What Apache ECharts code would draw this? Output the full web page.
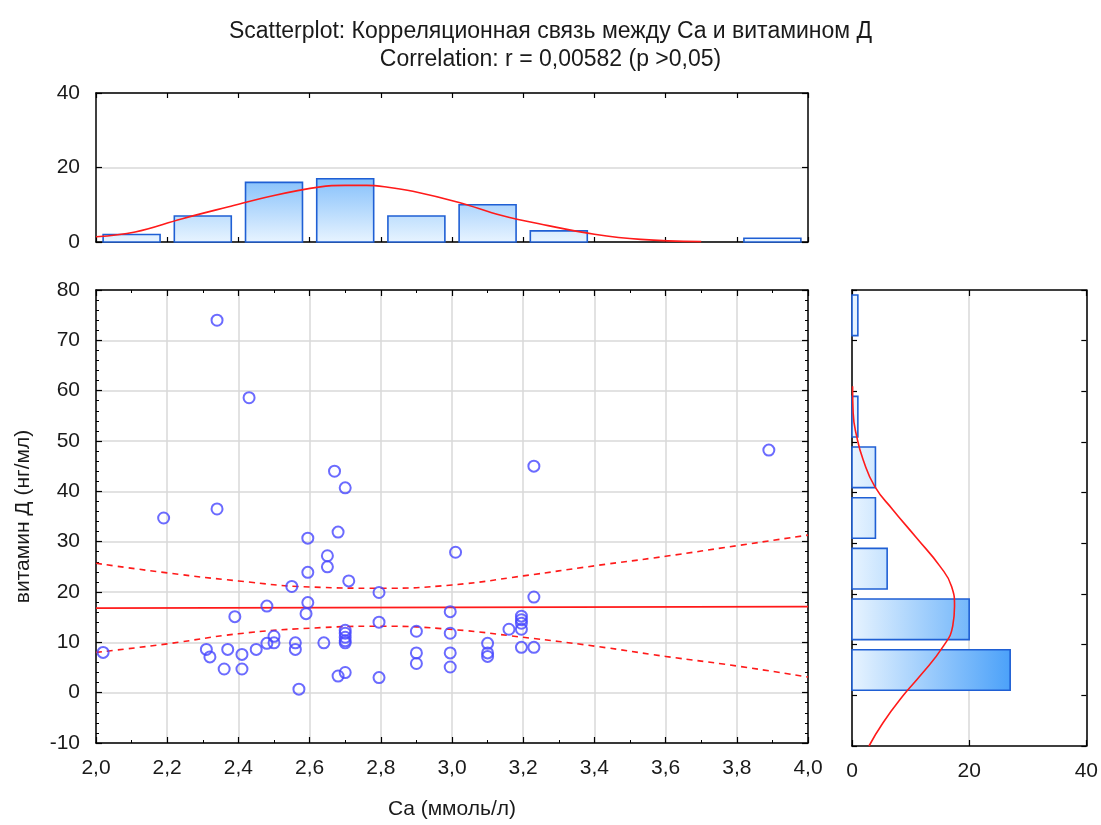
<!DOCTYPE html>
<html><head><meta charset="utf-8">
<script src="https://cdn.jsdelivr.net/npm/echarts@6/dist/echarts.min.js"></script>
<style>html,body{margin:0;padding:0;background:#fff}#c{width:1101px;height:825px}</style>
</head><body><div id="c"></div>
<script>
// ---- data ----
const caValues = [2.02,2.19,2.34,2.34,2.31,2.32,2.37,2.36,2.39,2.43,2.41,2.41,2.45,2.48,2.50,2.50,2.48,2.55,2.59,2.56,2.56,2.57,2.595,2.595,2.595,
  2.67,2.70,2.68,2.65,2.65,2.71,2.70,2.70,2.70,2.70,2.70,2.64,2.68,2.70,2.795,2.795,2.795,
  2.90,2.90,2.90,2.995,2.995,2.995,2.995,
  3.01,3.10,3.10,3.10,3.16,3.195,3.195,3.195,3.195,3.195,
  3.23,3.23,3.23,3.89];
const vitDValues = [8.0,34.7,74.0,36.5,8.6,7.1,8.6,4.7,15.1,58.6,7.6,4.7,8.6,17.2,11.2,9.9,9.8,21.1,15.7,9.9,8.6,0.7,30.7,23.9,17.9,
  44.0,40.7,31.9,27.2,25.0,22.2,12.4,11.8,11.0,10.3,9.9,9.9,3.3,4.0,19.9,14.0,3.0,
  12.2,7.9,5.8,16.1,11.8,7.9,5.1,
  27.9,9.8,7.9,7.2,12.6,15.2,14.5,13.8,12.6,9.0,
  45.0,19.0,9.0,48.2];
const caBinStarts = [2.0,2.2,2.4,2.6,2.8,3.0,3.2,3.4,3.6,3.8];
const caBinCounts = [2,7,16,17,7,10,3,0,0,1];
const vitBinStarts = [0,10,20,30,40,50,60,70];
const vitBinCounts = [27,20,6,4,4,1,0,1];
const regX = [2.0,4.0];
const regY = [16.8,17.1];
const bandX = [2.0,2.2,2.4,2.6,2.8,3.0,3.2,3.4,3.6,3.8,4.0];
const bandUpper = [25.7,23.8,22.2,21.0,20.75,21.4,23.2,25.2,27.1,29.2,31.3];
const bandLower = [8.0,9.7,11.7,12.8,13.2,12.55,11.0,9.25,7.2,5.3,3.1];
const caCurveX = [2.0,2.11,2.24,2.37,2.50,2.63,2.70,2.76,2.82,2.89,3.02,3.14,3.27,3.40,3.53,3.70];
const caCurveCount = [1.4,2.7,6.2,9.4,12.5,14.8,15.2,15.2,14.7,13.6,10.6,7.1,4.4,2.1,0.7,0.1];
const vitCurveV = [61,55.7,51.1,46.5,41.2,36.6,31.1,25.5,21.5,17.6,13.7,9.7,3.8,-0.1,-5.4,-10];
const vitCurveCount = [0.1,0.2,0.8,1.9,3.9,7.0,11.0,15.0,17.0,17.5,17.2,15.6,11.6,8.7,5.3,2.9];
const titleLines = ['Scatterplot: Корреляционная связь между Ca и витамином Д','Correlation: r = 0,00582 (p >0,05)'];
const xName = 'Ca (ммоль/л)';
const yName = 'витамин Д (нг/мл)';

// ---- chart ----
const FONT = "'Liberation Sans',Arial,sans-serif";
const TXT = '#1a1a1a';
const chart = echarts.init(document.getElementById('c'), null, {renderer:'canvas'});
const axisLine = {show:true, onZero:false, lineStyle:{color:'#000', width:1.5}};
const grid = {color:'#d9d9d9', width:1.5};
const lab = {color:TXT, fontFamily:FONT, fontSize:21};
const nameLab = {color:TXT, fontFamily:FONT, fontSize:21};
const comma = v => v.toFixed(1).replace('.', ',');

function mix(t){
  t = Math.max(0, Math.min(1, t));
  const a=[232,244,255], b=[58,152,248];
  const c=a.map((v,i)=>Math.round(v+(b[i]-v)*t));
  return 'rgb('+c.join(',')+')';
}
const barBorder = '#1f5fd4';

function tick(len){return {show:true, inside:true, length:len, lineStyle:{color:'#000',width:1.2}};}

const option = {
  animation:false,
  backgroundColor:'#fff',
  title:{text:titleLines.join('\n'), left:'center', top:13,
    textStyle:{fontFamily:FONT, fontSize:23, fontWeight:'normal', color:TXT, lineHeight:28}},
  grid:[
    {left:96, top:290, width:712, height:456},
    {left:96, top:93, width:712, height:149},
    {left:852, top:290, width:235, height:456}
  ],
  xAxis:[
    {gridIndex:0, type:'value', min:2, max:4, interval:0.2, position:'bottom', axisLine,
      axisTick:tick(6), minorTick:{show:true, splitNumber:2, length:3, lineStyle:{color:'#000'}},
      splitLine:{show:true, lineStyle:grid}, minorSplitLine:{show:false},
      axisLabel:Object.assign({formatter:comma, margin:15}, lab),
      name:xName, nameLocation:'middle', nameGap:56, nameTextStyle:nameLab},
    {gridIndex:0, type:'value', min:2, max:4, interval:0.2, position:'top', axisLine,
      axisTick:tick(6), minorTick:{show:true, splitNumber:2, length:3, lineStyle:{color:'#000'}},
      splitLine:{show:false}, axisLabel:{show:false}},
    {gridIndex:1, type:'value', min:2, max:4, interval:0.2, position:'bottom', axisLine,
      axisTick:tick(5), splitLine:{show:false}, axisLabel:{show:false}},
    {gridIndex:1, type:'value', min:2, max:4, interval:0.2, position:'top', axisLine,
      axisTick:tick(5), splitLine:{show:false}, axisLabel:{show:false}},
    {gridIndex:2, type:'value', min:0, max:40, interval:20, position:'bottom', axisLine,
      axisTick:tick(6), splitLine:{show:true, lineStyle:grid},
      axisLabel:Object.assign({margin:15}, lab)},
    {gridIndex:2, type:'value', min:0, max:40, interval:20, position:'top', axisLine,
      axisTick:tick(6), splitLine:{show:false}, axisLabel:{show:false}}
  ],
  yAxis:[
    {gridIndex:0, type:'value', min:-10, max:80, interval:10, position:'left', axisLine,
      axisTick:tick(6), minorTick:{show:true, splitNumber:5, length:3, lineStyle:{color:'#000'}},
      splitLine:{show:true, lineStyle:grid},
      axisLabel:Object.assign({margin:16}, lab),
      name:yName, nameLocation:'middle', nameGap:62, nameRotate:90, nameTextStyle:nameLab},
    {gridIndex:0, type:'value', min:-10, max:80, interval:10, position:'right', axisLine,
      axisTick:tick(6), minorTick:{show:true, splitNumber:5, length:3, lineStyle:{color:'#000'}},
      splitLine:{show:false}, axisLabel:{show:false}},
    {gridIndex:1, type:'value', min:0, max:40, interval:20, position:'left', axisLine,
      axisTick:tick(6), splitLine:{show:true, lineStyle:grid},
      axisLabel:Object.assign({margin:16}, lab)},
    {gridIndex:1, type:'value', min:0, max:40, interval:20, position:'right', axisLine,
      axisTick:tick(6), splitLine:{show:false}, axisLabel:{show:false}},
    {gridIndex:2, type:'value', min:-10, max:80, interval:10, position:'left', axisLine,
      axisTick:tick(5), splitLine:{show:false}, axisLabel:{show:false}},
    {gridIndex:2, type:'value', min:-10, max:80, interval:10, position:'right', axisLine,
      axisTick:tick(5), splitLine:{show:false}, axisLabel:{show:false}}
  ],
  series:[
    {type:'custom', xAxisIndex:2, yAxisIndex:2, z:2,
      data:caBinStarts.map((s,i)=>[s, caBinCounts[i]]).filter(d=>d[1]>0),
      renderItem:(params, api)=>{
        const s=api.value(0), c=api.value(1);
        const p0=api.coord([s+0.02, 0]), p1=api.coord([s+0.18, c]);
        return {type:'rect', shape:{x:p0[0], y:p1[1], width:p1[0]-p0[0], height:p0[1]-p1[1]},
          style:{fill:new echarts.graphic.LinearGradient(0,1,0,0,[{offset:0,color:mix(0)},{offset:1,color:mix(c/30)}]),
            stroke:barBorder, lineWidth:1.6}};
      }},
    {type:'line', xAxisIndex:2, yAxisIndex:2, z:3, smooth:0.4, smoothConstraint:false, showSymbol:false, symbol:'none',
      lineStyle:{color:'#ff1a1a', width:1.6},
      data:caCurveX.map((x,i)=>[x, caCurveCount[i]])},
    {type:'custom', xAxisIndex:4, yAxisIndex:4, z:2,
      data:vitBinStarts.map((s,i)=>[vitBinCounts[i], s]).filter(d=>d[0]>0),
      renderItem:(params, api)=>{
        const c=api.value(0), s=api.value(1);
        const p0=api.coord([0, s+9]), p1=api.coord([c, s+1]);
        return {type:'rect', shape:{x:p0[0], y:p0[1], width:p1[0]-p0[0], height:p1[1]-p0[1]},
          style:{fill:new echarts.graphic.LinearGradient(0,0,1,0,[{offset:0,color:mix(0)},{offset:1,color:mix(c/30)}]),
            stroke:barBorder, lineWidth:1.6}};
      }},
    {type:'line', xAxisIndex:4, yAxisIndex:4, z:3, smooth:0.5, showSymbol:false, symbol:'none',
      lineStyle:{color:'#ff1a1a', width:1.6},
      data:vitCurveV.map((v,i)=>[vitCurveCount[i], v])},
    {type:'line', xAxisIndex:0, yAxisIndex:0, z:3, showSymbol:false, symbol:'none',
      lineStyle:{color:'#ff1a1a', width:1.6},
      data:regX.map((x,i)=>[x, regY[i]])},
    {type:'line', xAxisIndex:0, yAxisIndex:0, z:3, smooth:true, showSymbol:false, symbol:'none',
      lineStyle:{color:'#ff1a1a', width:1.6, type:[6,5]},
      data:bandX.map((x,i)=>[x, bandUpper[i]])},
    {type:'line', xAxisIndex:0, yAxisIndex:0, z:3, smooth:true, showSymbol:false, symbol:'none',
      lineStyle:{color:'#ff1a1a', width:1.6, type:[6,5]},
      data:bandX.map((x,i)=>[x, bandLower[i]])},
    {type:'scatter', xAxisIndex:0, yAxisIndex:0, z:4, symbol:'circle', symbolSize:11,
      itemStyle:{color:'rgba(0,0,0,0)', borderColor:'#4646ff', borderWidth:2},
      data:caValues.map((x,i)=>[x, vitDValues[i]])}
  ]
};
chart.setOption(option);
</script>
</body></html>
